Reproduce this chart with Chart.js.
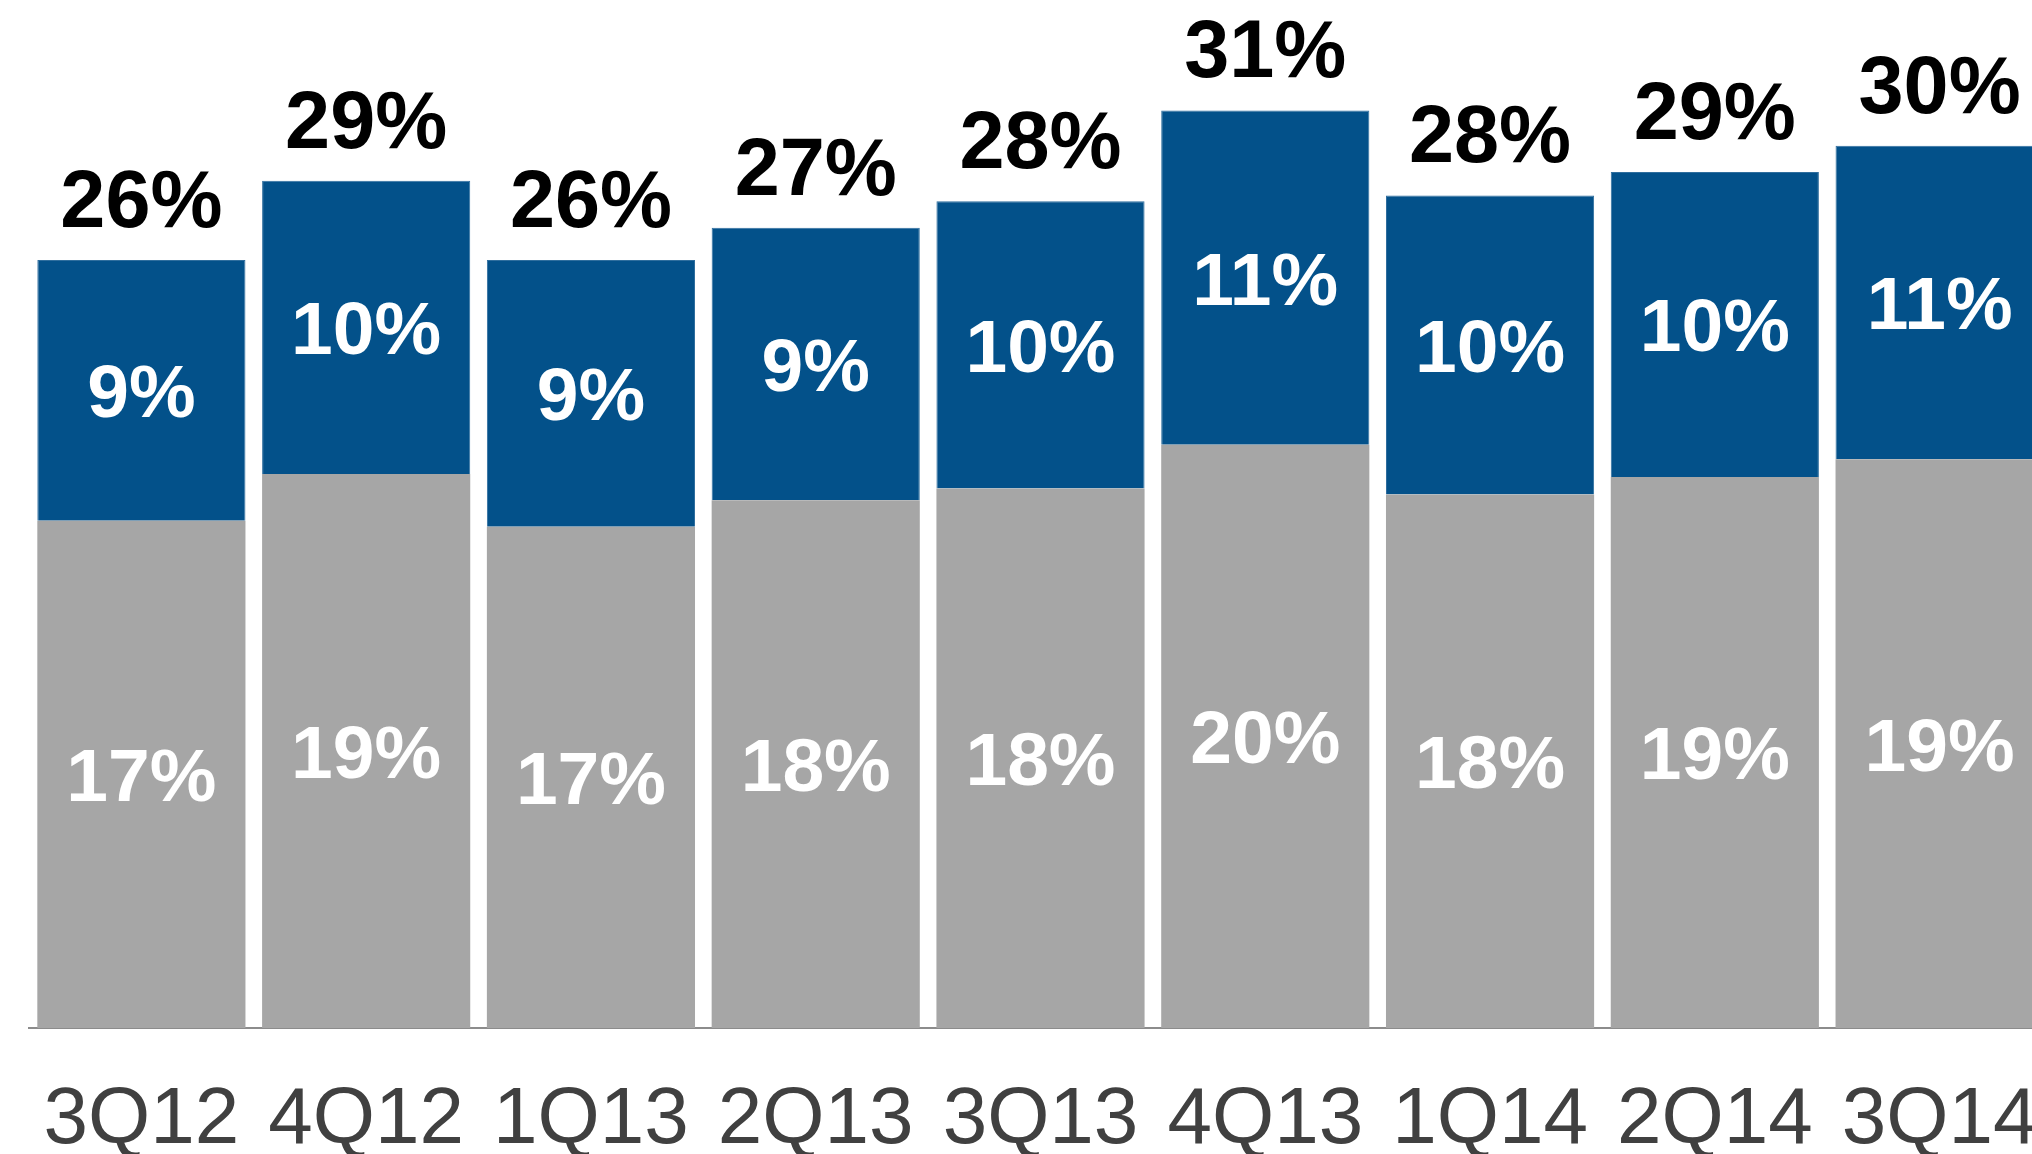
<!DOCTYPE html>
<html>
<head>
<meta charset="utf-8">
<script src="https://cdn.jsdelivr.net/npm/chart.js@4.4.1/dist/chart.umd.min.js"></script>
<style>
  html, body { margin: 0; padding: 0; background: #fff; overflow: hidden; }
  #wrap { position: relative; width: 2052px; height: 1154px; }
</style>
</head>
<body>
<div id="wrap"><canvas id="chart"></canvas></div>
<script>
const quarters = ["3Q12", "4Q12", "1Q13", "2Q13", "3Q13", "4Q13", "1Q14", "2Q14", "3Q14"];
const lowerShare = [17.3, 18.9, 17.1, 18.0, 18.4, 19.9, 18.2, 18.8, 19.4];
const upperShare = [8.9, 10.0, 9.1, 9.3, 9.8, 11.4, 10.2, 10.4, 10.7];

const GRAY = "#a6a6a6";
const BLUE = "#03518a";

/* labels drawn on and above the bars */
const barLabels = {
  id: "barLabels",
  afterDatasetsDraw(chart) {
    const ctx = chart.ctx;
    const lower = chart.getDatasetMeta(0).data;
    const upper = chart.getDatasetMeta(1).data;
    ctx.save();
    ctx.textAlign = "center";
    ctx.textBaseline = "alphabetic";

    ctx.font = "bold 75px 'Liberation Sans', Arial, sans-serif";
    ctx.fillStyle = "#ffffff";
    quarters.forEach((q, i) => {
      const g = lower[i];
      const b = upper[i];
      ctx.fillText(Math.round(lowerShare[i]) + "%", g.x, (g.y + g.base) / 2 + 27);
      ctx.fillText(Math.round(upperShare[i]) + "%", b.x, (b.y + b.base) / 2 + 27);
    });

    ctx.font = "bold 81px 'Liberation Sans', Arial, sans-serif";
    ctx.fillStyle = "#000000";
    quarters.forEach((q, i) => {
      const b = upper[i];
      const total = Math.round(lowerShare[i] + upperShare[i]);
      ctx.fillText(total + "%", b.x, b.y - 33);
    });
    ctx.restore();
  }
};

new Chart(document.getElementById("chart"), {
  type: "bar",
  data: {
    labels: quarters,
    datasets: [
      {
        data: lowerShare,
        backgroundColor: GRAY,
        borderWidth: 0
      },
      {
        data: upperShare,
        backgroundColor: BLUE,
        borderColor: "#2f6e9e",
        borderWidth: 1
      }
    ]
  },
  options: {
    responsive: true,
    maintainAspectRatio: false,
    animation: false,
    layout: { padding: { left: 29, right: 0, top: 2, bottom: 0 } },
    datasets: {
      bar: { barPercentage: 0.926, categoryPercentage: 1 }
    },
    plugins: {
      legend: { display: false },
      tooltip: { enabled: false }
    },
    scales: {
      x: {
        stacked: true,
        grid: {
          display: true,
          drawOnChartArea: false,
          drawTicks: true,
          tickLength: 45,
          color: "rgba(0,0,0,0)"
        },
        border: { display: true, color: "#8c8c8c", width: 2 },
        ticks: {
          padding: 0,
          color: "#404040",
          font: { family: "'Liberation Sans', Arial, sans-serif", size: 80 }
        },
        afterFit(scale) {
          scale.height = 126;
        }
      },
      y: {
        stacked: true,
        display: false,
        min: 0,
        max: 35
      }
    }
  },
  plugins: [barLabels]
});
</script>
</body>
</html>
